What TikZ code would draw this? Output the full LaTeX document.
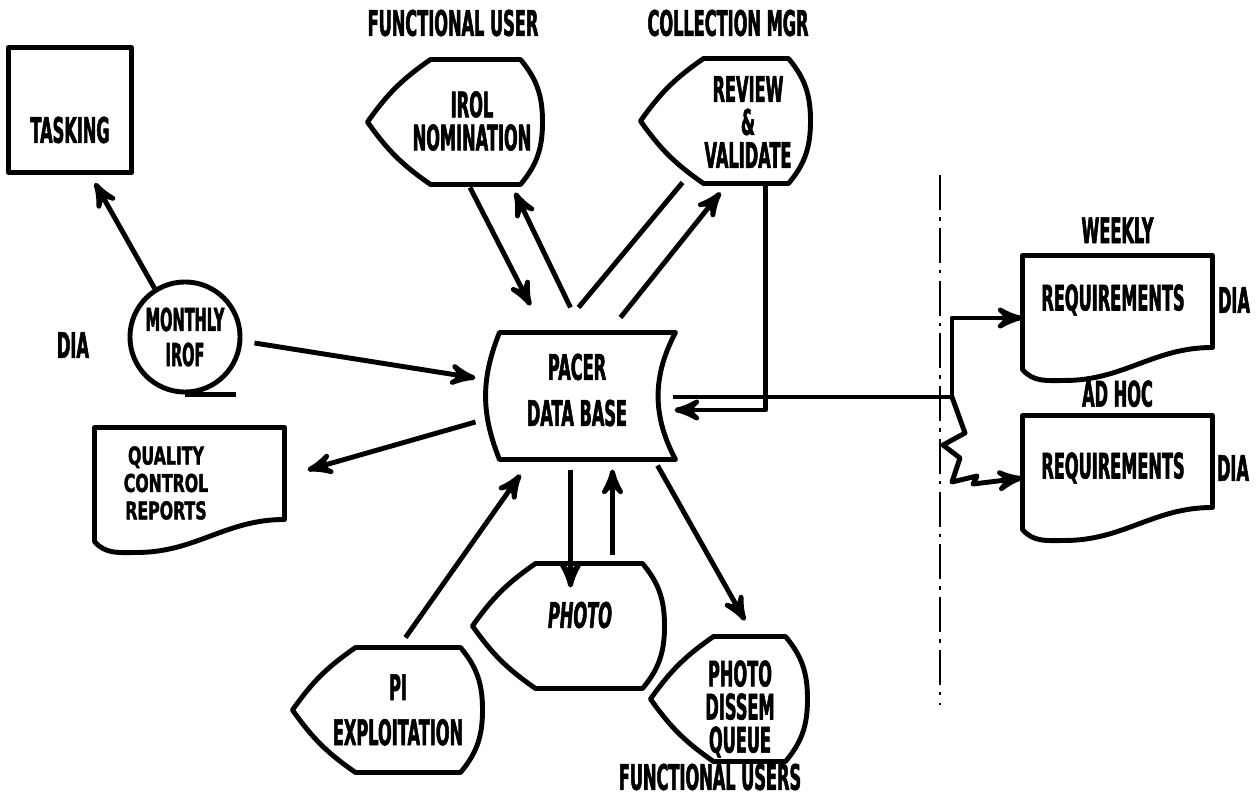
\documentclass[tikz,border=0pt]{standalone}
\usepackage{fontspec}
\newfontfamily\diafont{DejaVu Sans}[FakeStretch=0.46,FakeBold=1.5]
\newfontfamily\qcfont{DejaVu Sans}[FakeStretch=0.64,FakeBold=1.5]
\usetikzlibrary{arrows,positioning}

\begin{document}
\begin{tikzpicture}[x=0.01cm,y=-0.01cm,->,>=stealth',line width=1.4pt,
                    line join=round]
  \tikzstyle{every node}=[font=\diafont\bfseries\fontsize{10}{9.4}\selectfont,
                          align=center,inner sep=0pt]
  \tikzstyle{outline}=[-,line width=1.4pt]
  \tikzstyle{divider}=[-,line width=0.6pt,dash pattern=on 10pt off 2pt on 1pt off 2pt]
  \tikzset{
    disp/.style={minimum width=#1,minimum height=1.2cm,
      append after command={\pgfextra{\draw[outline]
        (\tikzlastnode.west) to[bend left=10] ([xshift=0.63cm]\tikzlastnode.north west)
        -- ([xshift=-0.22cm]\tikzlastnode.north east)
        to[out=-50,in=90] (\tikzlastnode.east)
        to[out=-90,in=50] ([xshift=-0.22cm]\tikzlastnode.south east)
        -- ([xshift=0.63cm]\tikzlastnode.south west)
        to[bend left=10] (\tikzlastnode.west) -- cycle;}}},
    doc/.style={minimum width=1.85cm,minimum height=1.2cm,
      append after command={\pgfextra{\draw[outline]
        ([yshift=0.11cm]\tikzlastnode.south west) -- (\tikzlastnode.north west)
        -- (\tikzlastnode.north east) -- ([yshift=0.33cm]\tikzlastnode.south east)
        to[out=180,in=0] ([xshift=0.42cm]\tikzlastnode.south west)
        to[out=180,in=-50] ([yshift=0.11cm]\tikzlastnode.south west) -- cycle;}}},
    store/.style={minimum width=1.71cm,minimum height=1.22cm,
      append after command={\pgfextra{\draw[outline]
        (\tikzlastnode.north west) -- (\tikzlastnode.north east)
        to[bend right=28] (\tikzlastnode.south east) -- (\tikzlastnode.south west)
        to[bend left=22] (\tikzlastnode.north west) -- cycle;}}},
    tape/.style={circle,draw,minimum size=1.1cm,
      append after command={\pgfextra{\draw[outline]
        (\tikzlastnode.south) -- ++(0.51cm,0);}}}
  }

  \path[fill=white,use as bounding box] (0,0) rectangle (1257,797);

  % shapes
  \node[draw,minimum width=1.23cm,minimum height=1.25cm] (tasking) at (70,110) {};
  \node[tape,font=\diafont\bfseries\fontsize{9}{9.4}\selectfont]
                       (monthly) at (185,337) {MONTHLY\\[0.02cm]IROF};
  \node[store]         (pacer)   at (587.5,396) {};
  \node[doc]           (qc)      at (189.5,490) {};
  \node[disp=1.70cm]   (irol)    at (455,122) {};
  \node[disp=1.65cm]   (review)  at (725.5,121) {};
  \node[disp=1.87cm]   (photo)   at (568.5,626) {};
  \node[disp=1.85cm]   (pi)      at (387.5,710) {};
  \node[disp=1.52cm]   (dissem)  at (729,699) {};
  \node[doc]           (weekly)  at (1117.5,318) {};
  \node[doc]           (adhoc)   at (1117.5,478) {};

  % texts
  \node (taskingtxt) at (70,130)   {TASKING};
  \node (pacertxt)   at (577,390)  {PACER\\[0.13cm]DATA BASE};
  \node[font=\qcfont\bfseries\fontsize{7}{7.8}\selectfont]
        (qctxt)      at (166,483)  {QUALITY\\CONTROL\\REPORTS};
  \node (iroltxt)    at (472,121)  {IROL\\NOMINATION};
  \node (reviewtxt)  at (748,122)  {REVIEW\\\&\\VALIDATE};
  \node (phototxt)   at (580,615)  {\itshape PHOTO};
  \node (pitxt)      at (398,710)  {PI\\[0.12cm]EXPLOITATION};
  \node (dissemtxt)  at (740,709)  {PHOTO\\DISSEM\\QUEUE};
  \node (weeklytxt)  at (1113,300) {REQUIREMENTS};
  \node (adhoctxt)   at (1113,468) {REQUIREMENTS};

  % labels
  \node (funcuser)  at (453,23)  {FUNCTIONAL USER};
  \node (collmgr)   at (728,23)  {COLLECTION MGR};
  \node (funcusers) at (710,777) {FUNCTIONAL USERS};
  \node (dialeft)   at (73,345)  {DIA};
  \node (weeklylbl) [above=0.1cm of weekly] {WEEKLY};
  \node (adhoclbl)  [above=0.06cm of adhoc] {AD HOC};
  \node (diaweekly) at (1234,300) {DIA};
  \node (diaadhoc)  at (1233,468) {DIA};

  \draw[divider] (940,175) -- (940,705);

  % flows
  \draw (monthly.122) -- ([shift={(25,8)}]tasking.south);
  \draw ([shift={(12,6)}]monthly.east) -- ([shift={(-24,-18)}]pacer.west);
  \draw ([shift={(-24,26)}]pacer.west) -- ([shift={(23,-20)}]qc.east);
  \draw ([shift={(15,3)}]irol.south) -- ([shift={(-57,-27)}]pacer.north);
  \draw ([shift={(-17,-25)}]pacer.north) -- ([shift={(60,8)}]irol.south);
  \draw[-] ([shift={(-9,-25)}]pacer.north) -- ([shift={(-43,-1)}]review.south);
  \draw ([shift={(33,-15)}]pacer.north) -- ([shift={(-5,9)}]review.south);
  \draw ([shift={(40,1)}]review.south) |- ([shift={(-1,14)}]pacer.east);
  \draw ([shift={(18,-10)}]pi.north) -- ([shift={(-67,15)}]pacer.south);
  \draw ([shift={(-17,10)}]pacer.south) -- ([shift={(2,24)}]photo.north);
  \draw ([shift={(44,-9)}]photo.north) -- ([shift={(25,10)}]pacer.south);
  \draw ([shift={(70,6)}]pacer.south) -- ([shift={(16,-16)}]dissem.north);

  \coordinate (split) at (952,397);
  \draw[-] ([shift={(-3,1)}]pacer.east) -- (split);
  \draw (split) |- (weekly.west);
  \draw (split) -- ++(13,36) -- ++(-22,12) -- ++(17,13) -- ++(-8,24)
        -- ++(25,-6) -- ++(-4,8) -- (adhoc.west);
\end{tikzpicture}
\end{document}
